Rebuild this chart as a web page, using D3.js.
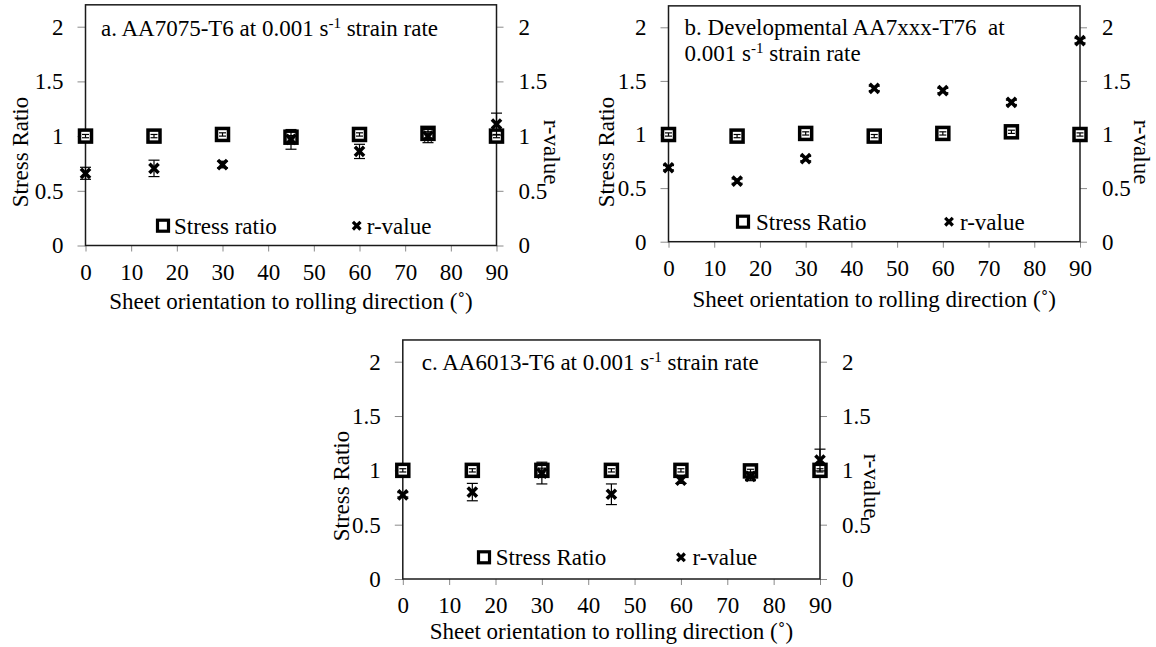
<!DOCTYPE html>
<html>
<head>
<meta charset="utf-8">
<script src="https://cdn.jsdelivr.net/npm/d3@7"></script>
<style>
  html, body { margin: 0; padding: 0; background: #fff; }
  svg { display: block; }
  text { font-family: "Liberation Serif", "Times New Roman", serif; fill: #000; }
</style>
</head>
<body>
<svg id="fig" width="1156" height="647"></svg>
<script>
// Sheet orientation angles (degrees from rolling direction)
const angles = [0, 15, 30, 45, 60, 75, 90];
const yTicks = [0, 0.5, 1, 1.5, 2];
const xTicks = [0, 10, 20, 30, 40, 50, 60, 70, 80, 90];

// a. AA7075-T6
const stressA    = [1.0, 1.0, 1.015, 0.99, 1.015, 1.025, 1.0];
const stressErrA = [0.015, 0.015, 0.015, 0.015, 0.015, 0.015, 0.015];
const rA         = [0.66, 0.705, 0.74, 0.97, 0.86, 1.0, 1.11];
const rErrA      = [0.055, 0.075, 0.03, 0.09, 0.065, 0.06, 0.1];

// b. Developmental AA7xxx-T76
const stressB    = [1.0, 0.985, 1.01, 0.985, 1.01, 1.025, 1.0];
const stressErrB = [0.015, 0.015, 0.015, 0.015, 0.015, 0.015, 0.015];
const rB         = [0.69, 0.565, 0.775, 1.43, 1.41, 1.30, 1.875];
const rErrB      = [0.02, 0.02, 0.02, 0.02, 0.02, 0.02, 0.02];

// c. AA6013-T6
const stressC    = [1.0, 1.0, 1.0, 1.0, 1.0, 0.995, 1.0];
const stressErrC = [0.015, 0.015, 0.02, 0.015, 0.015, 0.015, 0.015];
const rC         = [0.775, 0.80, 0.975, 0.78, 0.91, 0.945, 1.095];
const rErrC      = [0.02, 0.08, 0.1, 0.095, 0.03, 0.04, 0.1];

const legendNames = { a: ["Stress ratio", "r-value"], b: ["Stress Ratio", "r-value"], c: ["Stress Ratio", "r-value"] };

const FS = 23;
const FONT = "'Liberation Serif', 'Times New Roman', serif";
const svg = d3.select("#fig");

// Layout of each panel (pixel frame, label and legend placement)
const panels = [
  { key: "a", stress: stressA, sErr: stressErrA, r: rA, rErr: rErrA,
    x0: 85.5, x1: 496.5, yZero: 245.5, yTwo: 26.7,
    title: [["a. AA7075-T6 at 0.001 s", "-1", " strain rate"]], titleX: 101, titleY: 36,
    leftLab: [20, 152], rightLab: [552, 152], xLabY: 309,
    legY: 225.7, legSq: 163, legSqText: 174, legX: 356.7, legXText: 366.7 },
  { key: "b", stress: stressB, sErr: stressErrB, r: rB, rErr: rErrB,
    x0: 668.5, x1: 1080, yZero: 241.7, yTwo: 27.3,
    title: [["b. Developmental AA7xxx-T76\u00a0 at"], ["0.001 s", "-1", " strain rate"]], titleX: 684.6, titleY: 35,
    leftLab: [606, 152], rightLab: [1142, 152], xLabY: 307,
    legY: 221.7, legSq: 743, legSqText: 756, legX: 949, legXText: 960 },
  { key: "c", stress: stressC, sErr: stressErrC, r: rC, rErr: rErrC,
    x0: 402.8, x1: 820, yZero: 579, yTwo: 361.7,
    title: [["c. AA6013-T6 at 0.001 s", "-1", " strain rate"]], titleX: 421.8, titleY: 370,
    leftLab: [341, 486], rightLab: [872, 486], xLabY: 639,
    legY: 557.3, legSq: 484, legSqText: 495.7, legX: 681, legXText: 692.5 }
];

const crossPath = s => `M${-s},${-s}L${s},${s}M${-s},${s}L${s},${-s}`;

panels.forEach(p => {
  const x = d3.scaleLinear().domain([0, 90]).range([p.x0, p.x1]);
  const unit = (p.yZero - p.yTwo) / 2;
  const y = d3.scaleLinear().domain([0, 2.2]).range([p.yZero, p.yZero - 2.2 * unit]);
  const g = svg.append("g");

  // axes
  const styleAxis = sel => {
    sel.attr("font-family", FONT).attr("font-size", FS);
    sel.select(".domain").remove();
    sel.selectAll(".tick line").attr("stroke", "#8a8a8a").attr("stroke-width", 1);
    sel.selectAll(".tick text").attr("fill", "#000");
  };
  g.append("g").attr("transform", `translate(${p.x0},0)`)
    .call(d3.axisLeft(y).tickValues(yTicks).tickFormat(d3.format("")).tickSize(8).tickPadding(14))
    .call(styleAxis);
  g.append("g").attr("transform", `translate(${p.x1},0)`)
    .call(d3.axisRight(y).tickValues(yTicks).tickFormat(d3.format("")).tickSize(7).tickPadding(15))
    .call(styleAxis);
  g.append("g").attr("transform", `translate(0,${p.yZero})`)
    .call(d3.axisBottom(x).tickValues(xTicks).tickFormat(d3.format("")).tickSize(6).tickPadding(12))
    .call(styleAxis);

  // plot frame
  g.append("rect")
    .attr("x", x(0)).attr("y", y(2.2))
    .attr("width", x(90) - x(0)).attr("height", y(0) - y(2.2))
    .attr("fill", "none").attr("stroke", "#1a1a1a").attr("stroke-width", 1.5);

  // axis titles
  g.append("text")
    .attr("transform", `translate(${p.leftLab[0]},${p.leftLab[1]}) rotate(-90)`)
    .attr("text-anchor", "middle").attr("dy", "0.35em")
    .style("font-size", FS + "px").text("Stress Ratio");
  g.append("text")
    .attr("transform", `translate(${p.rightLab[0]},${p.rightLab[1]}) rotate(90)`)
    .attr("text-anchor", "middle").attr("dy", "0.35em")
    .style("font-size", FS + "px").text("r-value");
  g.append("text")
    .attr("x", (x(0) + x(90)) / 2).attr("y", p.xLabY)
    .attr("text-anchor", "middle")
    .style("font-size", FS + "px").text("Sheet orientation to rolling direction (\u02DA)");

  // panel title with superscript unit
  p.title.forEach((parts, li) => {
    const t = g.append("text").attr("x", p.titleX).attr("y", p.titleY + li * 26)
      .style("font-size", FS + "px");
    t.append("tspan").text(parts[0]);
    if (parts.length > 1) {
      t.append("tspan").attr("dy", -8).style("font-size", "15px").text(parts[1]);
      t.append("tspan").attr("dy", 8).text(parts[2]);
    }
  });

  const pts = angles.map((a, i) => ({ a, s: p.stress[i], se: p.sErr[i], r: p.r[i], re: p.rErr[i] }));

  // stress ratio markers
  g.selectAll(".sq").data(pts).join("rect")
    .attr("x", d => x(d.a) - 6).attr("y", d => y(d.s) - 6)
    .attr("width", 12).attr("height", 12)
    .attr("fill", "#fff").attr("stroke", "#000").attr("stroke-width", 3.5);

  // error bars helper
  const errBars = (val, err, capW) => {
    const eb = g.append("g").attr("stroke", "#000").attr("stroke-width", 1.2);
    pts.forEach(d => {
      const cx = x(d.a), top = y(d[val] + d[err]), bot = y(d[val] - d[err]);
      eb.append("line").attr("x1", cx).attr("x2", cx).attr("y1", top).attr("y2", bot);
      eb.append("line").attr("x1", cx - capW).attr("x2", cx + capW).attr("y1", top).attr("y2", top);
      eb.append("line").attr("x1", cx - capW).attr("x2", cx + capW).attr("y1", bot).attr("y2", bot);
    });
  };
  errBars("s", "se", 3.5);
  errBars("r", "re", 5.5);

  // r-value markers
  g.selectAll(".rx").data(pts).join("path")
    .attr("transform", d => `translate(${x(d.a)},${y(d.r)})`)
    .attr("d", crossPath(4.6))
    .attr("fill", "none").attr("stroke", "#000").attr("stroke-width", 3.5);

  // legend
  const [n1, n2] = legendNames[p.key];
  g.append("rect").attr("x", p.legSq - 5.5).attr("y", p.legY - 5.5).attr("width", 11).attr("height", 11)
    .attr("fill", "#fff").attr("stroke", "#000").attr("stroke-width", 3.2);
  g.append("text").attr("x", p.legSqText).attr("y", p.legY).attr("dy", "0.35em")
    .style("font-size", FS + "px").text(n1);
  g.append("path").attr("transform", `translate(${p.legX},${p.legY})`).attr("d", crossPath(3.8))
    .attr("fill", "none").attr("stroke", "#000").attr("stroke-width", 3.2);
  g.append("text").attr("x", p.legXText).attr("y", p.legY).attr("dy", "0.35em")
    .style("font-size", FS + "px").text(n2);
});
</script>
</body>
</html>
